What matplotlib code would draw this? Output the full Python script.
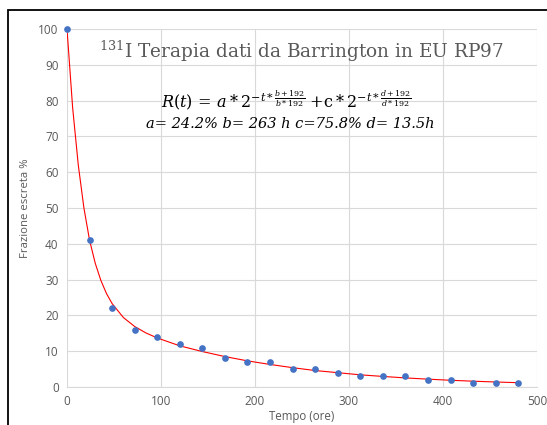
import matplotlib
matplotlib.use("Agg")
import matplotlib.pyplot as plt
from matplotlib.patches import Rectangle
import numpy as np

# Data points (hours, % excreted fraction)
hours = [0, 24, 48, 72, 96, 120, 144, 168, 192, 216, 240, 264, 288, 312, 336,
         360, 384, 408, 432, 456, 480]
values = [100, 41, 22, 16, 14, 12, 11, 8, 7, 7, 5, 5, 4, 3, 3, 3, 2, 2, 1, 1, 1]

# Fitted curve
curve_t = [0, 6, 12, 18, 24, 30, 36, 42, 48, 60, 72, 84, 96, 120, 144, 168, 192,
           216, 240, 264, 288, 312, 336, 360, 384, 408, 432, 456, 480]
curve_v = [100, 78, 62, 50, 41, 34.6, 29.8, 26.1, 23.3, 19.4, 16.9, 15.1, 13.7,
           11.5, 9.9, 8.5, 7.3, 6.3, 5.4, 4.6, 4.0, 3.4, 2.95, 2.54, 2.19, 1.88,
           1.62, 1.40, 1.2]

x_ticks = [0, 100, 200, 300, 400, 500]
y_ticks = [0, 10, 20, 30, 40, 50, 60, 70, 80, 90, 100]

title_txt = r"$^{131}$I Terapia dati da Barrington in EU RP97"
formula_txt = (r"$R(t)\,=\,a * 2^{-t*\frac{b+192}{b*192}}\;{+}\mathrm{c} * 2^{-t*\frac{d+192}{d*192}}$")
params_txt = "a= 24.2% b= 263 h c=75.8% d= 13.5h"

plt.rcParams['font.family'] = ['Open Sans', 'DejaVu Sans']
plt.rcParams['mathtext.fontset'] = 'dejavuserif'

fig = plt.figure(figsize=(5.47, 4.25), dpi=100)
fig.patch.set_facecolor('white')
ax = fig.add_axes([67/547, 1-387/425, 470/547, 358/425])

grid_c = '#d9d9d9'
text_c = '#595959'

ax.plot(curve_t, curve_v, color='#ff0000', lw=0.8, zorder=2)
ax.plot(hours, values, 'o', color='#4472c4', ms=3.8, zorder=3, clip_on=False)

ax.set_xlim(0, 500)
ax.set_ylim(0, 100)
ax.set_xticks(x_ticks)
ax.set_yticks(y_ticks)
ax.grid(True, color=grid_c, lw=0.8)
ax.set_axisbelow(True)
for s in ['top', 'right', 'left']:
    ax.spines[s].set_visible(False)
ax.spines['bottom'].set_color(grid_c)
ax.spines['bottom'].set_linewidth(0.8)
ax.tick_params(length=0, labelsize=8.5, labelcolor=text_c, pad=6)

ax.set_xlabel("Tempo (ore)", fontsize=8.3, color=text_c, labelpad=1)
ax.set_ylabel("Frazione escreta %", fontsize=8.2, color=text_c, labelpad=5)

fig.text(301/547, 1-51/425, title_txt, ha='center', va='center',
         fontsize=13.3, color=text_c, family='DejaVu Serif')
fig.text(286/547, 1-101/425, formula_txt, ha='center', va='center',
         fontsize=11.5, color='black')
fig.text(290/547, 1-124/425, params_txt, ha='center', va='center',
         fontsize=10.5, color='black', family='DejaVu Serif', style='italic')

fig.patches.append(Rectangle((8/547, -0.2), 1.5, 0.2 + 1-10/425,
                             transform=fig.transFigure, fill=False,
                             edgecolor='black', lw=1.3))

fig.savefig("out.png", dpi=100)
